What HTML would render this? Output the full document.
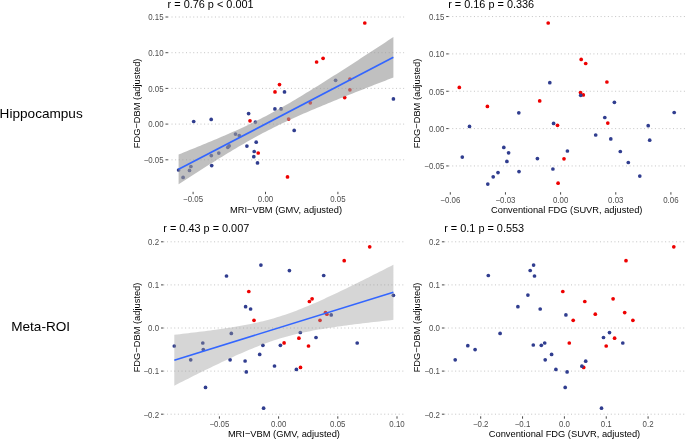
<!DOCTYPE html>
<html><head><meta charset="utf-8"><style>
html,body{margin:0;padding:0;background:#fff;}
svg{display:block;font-family:"Liberation Sans", sans-serif;will-change:transform;}
</style></head><body>
<svg width="685" height="439" viewBox="0 0 685 439">
<rect width="685" height="439" fill="#fff"/>
<text x="-0.4" y="117.9" font-size="13.6" fill="#000">Hippocampus</text>
<text x="11.2" y="330.8" font-size="13.6" fill="#000">Meta-ROI</text>
<line x1="167.9" y1="16.999999999999986" x2="404.1" y2="16.999999999999986" stroke="#bdbdbd" stroke-width="0.9" stroke-dasharray="1 2.62"/>
<line x1="167.9" y1="52.69999999999999" x2="404.1" y2="52.69999999999999" stroke="#bdbdbd" stroke-width="0.9" stroke-dasharray="1 2.62"/>
<line x1="167.9" y1="88.39999999999999" x2="404.1" y2="88.39999999999999" stroke="#bdbdbd" stroke-width="0.9" stroke-dasharray="1 2.62"/>
<line x1="167.9" y1="124.1" x2="404.1" y2="124.1" stroke="#bdbdbd" stroke-width="0.9" stroke-dasharray="1 2.62"/>
<line x1="167.9" y1="159.8" x2="404.1" y2="159.8" stroke="#bdbdbd" stroke-width="0.9" stroke-dasharray="1 2.62"/>
<line x1="165.5" y1="16.999999999999986" x2="167.9" y2="16.999999999999986" stroke="#333" stroke-width="0.9"/>
<text transform="translate(163.6,20.30) scale(1,1.12)" text-anchor="end" font-size="7.9" fill="#4d4d4d">0.15</text>
<line x1="165.5" y1="52.69999999999999" x2="167.9" y2="52.69999999999999" stroke="#333" stroke-width="0.9"/>
<text transform="translate(163.6,56.00) scale(1,1.12)" text-anchor="end" font-size="7.9" fill="#4d4d4d">0.10</text>
<line x1="165.5" y1="88.39999999999999" x2="167.9" y2="88.39999999999999" stroke="#333" stroke-width="0.9"/>
<text transform="translate(163.6,91.70) scale(1,1.12)" text-anchor="end" font-size="7.9" fill="#4d4d4d">0.05</text>
<line x1="165.5" y1="124.1" x2="167.9" y2="124.1" stroke="#333" stroke-width="0.9"/>
<text transform="translate(163.6,127.40) scale(1,1.12)" text-anchor="end" font-size="7.9" fill="#4d4d4d">0.00</text>
<line x1="165.5" y1="159.8" x2="167.9" y2="159.8" stroke="#333" stroke-width="0.9"/>
<text transform="translate(163.6,163.10) scale(1,1.12)" text-anchor="end" font-size="7.9" fill="#4d4d4d">−0.05</text>
<line x1="193.1" y1="191.8" x2="193.1" y2="194.20000000000002" stroke="#333" stroke-width="0.9"/>
<text transform="translate(193.1,202.30) scale(1,1.12)" text-anchor="middle" font-size="7.9" fill="#4d4d4d">−0.05</text>
<line x1="265.5" y1="191.8" x2="265.5" y2="194.20000000000002" stroke="#333" stroke-width="0.9"/>
<text transform="translate(265.5,202.30) scale(1,1.12)" text-anchor="middle" font-size="7.9" fill="#4d4d4d">0.00</text>
<line x1="337.9" y1="191.8" x2="337.9" y2="194.20000000000002" stroke="#333" stroke-width="0.9"/>
<text transform="translate(337.9,202.30) scale(1,1.12)" text-anchor="middle" font-size="7.9" fill="#4d4d4d">0.05</text>
<text x="167.6" y="8.0" font-size="10.9" fill="#000">r = 0.76 p &lt; 0.001</text>
<text x="286.0" y="212.7" text-anchor="middle" font-size="9.3" fill="#000">MRI−VBM (GMV, adjusted)</text>
<text transform="translate(140.0,103.4) rotate(-90)" text-anchor="middle" font-size="9.3" fill="#000">FDG−DBM (adjusted)</text>
<circle cx="250" cy="120.8" r="1.85" fill="#ee0000"/>
<circle cx="258.2" cy="153" r="1.85" fill="#ee0000"/>
<circle cx="287.5" cy="176.9" r="1.85" fill="#ee0000"/>
<circle cx="275" cy="91.9" r="1.85" fill="#ee0000"/>
<circle cx="279.5" cy="84.6" r="1.85" fill="#ee0000"/>
<circle cx="316.6" cy="62" r="1.85" fill="#ee0000"/>
<circle cx="323.1" cy="58.3" r="1.85" fill="#ee0000"/>
<circle cx="364.8" cy="23" r="1.85" fill="#ee0000"/>
<circle cx="344.7" cy="97.6" r="1.85" fill="#ee0000"/>
<circle cx="288.6" cy="119.1" r="1.85" fill="#ee0000"/>
<circle cx="310.3" cy="102.8" r="1.85" fill="#ee0000"/>
<circle cx="349.9" cy="79.1" r="1.85" fill="#ee0000"/>
<circle cx="349.9" cy="89.8" r="1.85" fill="#ee0000"/>
<circle cx="193.7" cy="121.5" r="1.85" fill="#303d8f"/>
<circle cx="211.2" cy="119.4" r="1.85" fill="#303d8f"/>
<circle cx="248.6" cy="113.6" r="1.85" fill="#303d8f"/>
<circle cx="256.2" cy="142.2" r="1.85" fill="#303d8f"/>
<circle cx="246.9" cy="146.1" r="1.85" fill="#303d8f"/>
<circle cx="254.2" cy="151.5" r="1.85" fill="#303d8f"/>
<circle cx="253.8" cy="156.7" r="1.85" fill="#303d8f"/>
<circle cx="257.5" cy="162.9" r="1.85" fill="#303d8f"/>
<circle cx="211.7" cy="165.6" r="1.85" fill="#303d8f"/>
<circle cx="178.6" cy="170" r="1.85" fill="#303d8f"/>
<circle cx="274.9" cy="108.9" r="1.85" fill="#303d8f"/>
<circle cx="284.5" cy="91.9" r="1.85" fill="#303d8f"/>
<circle cx="294.2" cy="130.4" r="1.85" fill="#303d8f"/>
<circle cx="393.4" cy="98.9" r="1.85" fill="#303d8f"/>
<circle cx="255.4" cy="122.1" r="1.85" fill="#303d8f"/>
<circle cx="235.5" cy="134.1" r="1.85" fill="#303d8f"/>
<circle cx="239.3" cy="135.5" r="1.85" fill="#303d8f"/>
<circle cx="229.2" cy="145.8" r="1.85" fill="#303d8f"/>
<circle cx="227.8" cy="147.3" r="1.85" fill="#303d8f"/>
<circle cx="218.8" cy="153.1" r="1.85" fill="#303d8f"/>
<circle cx="211.3" cy="155.6" r="1.85" fill="#303d8f"/>
<circle cx="190.9" cy="166.5" r="1.85" fill="#303d8f"/>
<circle cx="189.5" cy="170.4" r="1.85" fill="#303d8f"/>
<circle cx="183.1" cy="177.4" r="1.85" fill="#303d8f"/>
<circle cx="281.1" cy="108.9" r="1.85" fill="#303d8f"/>
<circle cx="335.6" cy="80.3" r="1.85" fill="#303d8f"/>
<path d="M178.60,154.47 L181.32,153.39 L184.04,152.30 L186.76,151.21 L189.48,150.12 L192.19,149.03 L194.91,147.93 L197.63,146.82 L200.35,145.71 L203.07,144.60 L205.79,143.48 L208.51,142.36 L211.23,141.23 L213.95,140.09 L216.67,138.94 L219.38,137.79 L222.10,136.62 L224.82,135.45 L227.54,134.27 L230.26,133.08 L232.98,131.87 L235.70,130.65 L238.42,129.42 L241.14,128.18 L243.86,126.91 L246.57,125.64 L249.29,124.34 L252.01,123.03 L254.73,121.70 L257.45,120.35 L260.17,118.98 L262.89,117.59 L265.61,116.19 L268.33,114.76 L271.05,113.31 L273.76,111.84 L276.48,110.35 L279.20,108.84 L281.92,107.31 L284.64,105.77 L287.36,104.21 L290.08,102.63 L292.80,101.03 L295.52,99.43 L298.24,97.81 L300.95,96.17 L303.67,94.53 L306.39,92.87 L309.11,91.21 L311.83,89.53 L314.55,87.85 L317.27,86.16 L319.99,84.46 L322.71,82.75 L325.43,81.04 L328.14,79.32 L330.86,77.60 L333.58,75.87 L336.30,74.13 L339.02,72.39 L341.74,70.65 L344.46,68.91 L347.18,67.16 L349.90,65.40 L352.62,63.65 L355.33,61.89 L358.05,60.13 L360.77,58.36 L363.49,56.59 L366.21,54.83 L368.93,53.05 L371.65,51.28 L374.37,49.51 L377.09,47.73 L379.81,45.95 L382.52,44.17 L385.24,42.39 L387.96,40.61 L390.68,38.83 L393.40,37.04 L393.40,77.47 L390.68,78.53 L387.96,79.58 L385.24,80.64 L382.52,81.69 L379.81,82.75 L377.09,83.81 L374.37,84.87 L371.65,85.93 L368.93,87.00 L366.21,88.07 L363.49,89.13 L360.77,90.20 L358.05,91.28 L355.33,92.35 L352.62,93.43 L349.90,94.51 L347.18,95.60 L344.46,96.69 L341.74,97.78 L339.02,98.87 L336.30,99.97 L333.58,101.07 L330.86,102.18 L328.14,103.30 L325.43,104.41 L322.71,105.54 L319.99,106.67 L317.27,107.81 L314.55,108.95 L311.83,110.11 L309.11,111.27 L306.39,112.44 L303.67,113.62 L300.95,114.82 L298.24,116.02 L295.52,117.24 L292.80,118.47 L290.08,119.71 L287.36,120.97 L284.64,122.25 L281.92,123.54 L279.20,124.85 L276.48,126.18 L273.76,127.53 L271.05,128.89 L268.33,130.28 L265.61,131.69 L262.89,133.12 L260.17,134.57 L257.45,136.04 L254.73,137.52 L252.01,139.03 L249.29,140.56 L246.57,142.10 L243.86,143.66 L241.14,145.24 L238.42,146.83 L235.70,148.43 L232.98,150.05 L230.26,151.69 L227.54,153.33 L224.82,154.99 L222.10,156.65 L219.38,158.32 L216.67,160.01 L213.95,161.70 L211.23,163.40 L208.51,165.10 L205.79,166.82 L203.07,168.53 L200.35,170.26 L197.63,171.99 L194.91,173.72 L192.19,175.46 L189.48,177.20 L186.76,178.95 L184.04,180.70 L181.32,182.45 L178.60,184.21 Z" fill="#999999" fill-opacity="0.62"/>
<line x1="178.60" y1="169.34" x2="393.40" y2="57.26" stroke="#3366ff" stroke-width="1.65"/>
<line x1="448.6" y1="16.549999999999983" x2="684.9" y2="16.549999999999983" stroke="#bdbdbd" stroke-width="0.9" stroke-dasharray="1 2.62"/>
<line x1="448.6" y1="53.89999999999999" x2="684.9" y2="53.89999999999999" stroke="#bdbdbd" stroke-width="0.9" stroke-dasharray="1 2.62"/>
<line x1="448.6" y1="91.25" x2="684.9" y2="91.25" stroke="#bdbdbd" stroke-width="0.9" stroke-dasharray="1 2.62"/>
<line x1="448.6" y1="128.6" x2="684.9" y2="128.6" stroke="#bdbdbd" stroke-width="0.9" stroke-dasharray="1 2.62"/>
<line x1="448.6" y1="165.95" x2="684.9" y2="165.95" stroke="#bdbdbd" stroke-width="0.9" stroke-dasharray="1 2.62"/>
<line x1="446.20000000000005" y1="16.549999999999983" x2="448.6" y2="16.549999999999983" stroke="#333" stroke-width="0.9"/>
<text transform="translate(444.3,19.85) scale(1,1.12)" text-anchor="end" font-size="7.9" fill="#4d4d4d">0.15</text>
<line x1="446.20000000000005" y1="53.89999999999999" x2="448.6" y2="53.89999999999999" stroke="#333" stroke-width="0.9"/>
<text transform="translate(444.3,57.20) scale(1,1.12)" text-anchor="end" font-size="7.9" fill="#4d4d4d">0.10</text>
<line x1="446.20000000000005" y1="91.25" x2="448.6" y2="91.25" stroke="#333" stroke-width="0.9"/>
<text transform="translate(444.3,94.55) scale(1,1.12)" text-anchor="end" font-size="7.9" fill="#4d4d4d">0.05</text>
<line x1="446.20000000000005" y1="128.6" x2="448.6" y2="128.6" stroke="#333" stroke-width="0.9"/>
<text transform="translate(444.3,131.90) scale(1,1.12)" text-anchor="end" font-size="7.9" fill="#4d4d4d">0.00</text>
<line x1="446.20000000000005" y1="165.95" x2="448.6" y2="165.95" stroke="#333" stroke-width="0.9"/>
<text transform="translate(444.3,169.25) scale(1,1.12)" text-anchor="end" font-size="7.9" fill="#4d4d4d">−0.05</text>
<line x1="450.3" y1="192.2" x2="450.3" y2="194.6" stroke="#333" stroke-width="0.9"/>
<text transform="translate(450.3,202.70) scale(1,1.12)" text-anchor="middle" font-size="7.9" fill="#4d4d4d">−0.06</text>
<line x1="505.45000000000005" y1="192.2" x2="505.45000000000005" y2="194.6" stroke="#333" stroke-width="0.9"/>
<text transform="translate(505.45000000000005,202.70) scale(1,1.12)" text-anchor="middle" font-size="7.9" fill="#4d4d4d">−0.03</text>
<line x1="560.6" y1="192.2" x2="560.6" y2="194.6" stroke="#333" stroke-width="0.9"/>
<text transform="translate(560.6,202.70) scale(1,1.12)" text-anchor="middle" font-size="7.9" fill="#4d4d4d">0.00</text>
<line x1="615.75" y1="192.2" x2="615.75" y2="194.6" stroke="#333" stroke-width="0.9"/>
<text transform="translate(615.75,202.70) scale(1,1.12)" text-anchor="middle" font-size="7.9" fill="#4d4d4d">0.03</text>
<line x1="670.9" y1="192.2" x2="670.9" y2="194.6" stroke="#333" stroke-width="0.9"/>
<text transform="translate(670.9,202.70) scale(1,1.12)" text-anchor="middle" font-size="7.9" fill="#4d4d4d">0.06</text>
<text x="448.2" y="8.0" font-size="10.9" fill="#000">r = 0.16 p = 0.336</text>
<text x="566.75" y="212.7" text-anchor="middle" font-size="9.3" fill="#000">Conventional FDG (SUVR, adjusted)</text>
<text transform="translate(420.0,103.55) rotate(-90)" text-anchor="middle" font-size="9.3" fill="#000">FDG−DBM (adjusted)</text>
<circle cx="548.2" cy="23" r="1.85" fill="#ee0000"/>
<circle cx="459.3" cy="87.4" r="1.85" fill="#ee0000"/>
<circle cx="539.7" cy="100.9" r="1.85" fill="#ee0000"/>
<circle cx="487.4" cy="106.4" r="1.85" fill="#ee0000"/>
<circle cx="581.2" cy="59.4" r="1.85" fill="#ee0000"/>
<circle cx="585.7" cy="63.5" r="1.85" fill="#ee0000"/>
<circle cx="606.9" cy="82" r="1.85" fill="#ee0000"/>
<circle cx="580.5" cy="92.5" r="1.85" fill="#ee0000"/>
<circle cx="583.3" cy="94.9" r="1.85" fill="#ee0000"/>
<circle cx="557.5" cy="125.3" r="1.85" fill="#ee0000"/>
<circle cx="564" cy="158.8" r="1.85" fill="#ee0000"/>
<circle cx="558.1" cy="183.2" r="1.85" fill="#ee0000"/>
<circle cx="607.8" cy="123.1" r="1.85" fill="#ee0000"/>
<circle cx="549.8" cy="82.7" r="1.85" fill="#303d8f"/>
<circle cx="580.7" cy="95.3" r="1.85" fill="#303d8f"/>
<circle cx="614.4" cy="102.3" r="1.85" fill="#303d8f"/>
<circle cx="518.8" cy="112.8" r="1.85" fill="#303d8f"/>
<circle cx="469.5" cy="126.4" r="1.85" fill="#303d8f"/>
<circle cx="553.6" cy="123.4" r="1.85" fill="#303d8f"/>
<circle cx="503.8" cy="147.4" r="1.85" fill="#303d8f"/>
<circle cx="508.6" cy="152.8" r="1.85" fill="#303d8f"/>
<circle cx="462.3" cy="157.1" r="1.85" fill="#303d8f"/>
<circle cx="506.9" cy="161.4" r="1.85" fill="#303d8f"/>
<circle cx="537.4" cy="158.6" r="1.85" fill="#303d8f"/>
<circle cx="567.4" cy="151" r="1.85" fill="#303d8f"/>
<circle cx="552.9" cy="169" r="1.85" fill="#303d8f"/>
<circle cx="498" cy="172.6" r="1.85" fill="#303d8f"/>
<circle cx="519" cy="171.6" r="1.85" fill="#303d8f"/>
<circle cx="493.2" cy="176.8" r="1.85" fill="#303d8f"/>
<circle cx="487.8" cy="184.1" r="1.85" fill="#303d8f"/>
<circle cx="674.2" cy="112.5" r="1.85" fill="#303d8f"/>
<circle cx="604.8" cy="117.5" r="1.85" fill="#303d8f"/>
<circle cx="648.2" cy="125.7" r="1.85" fill="#303d8f"/>
<circle cx="595.7" cy="135" r="1.85" fill="#303d8f"/>
<circle cx="610.8" cy="138.9" r="1.85" fill="#303d8f"/>
<circle cx="649.7" cy="140.2" r="1.85" fill="#303d8f"/>
<circle cx="620.3" cy="151.5" r="1.85" fill="#303d8f"/>
<circle cx="628.3" cy="162.5" r="1.85" fill="#303d8f"/>
<circle cx="639.8" cy="176.1" r="1.85" fill="#303d8f"/>
<line x1="163.4" y1="241.8" x2="404.4" y2="241.8" stroke="#bdbdbd" stroke-width="0.9" stroke-dasharray="1 2.62"/>
<line x1="163.4" y1="284.9" x2="404.4" y2="284.9" stroke="#bdbdbd" stroke-width="0.9" stroke-dasharray="1 2.62"/>
<line x1="163.4" y1="328.0" x2="404.4" y2="328.0" stroke="#bdbdbd" stroke-width="0.9" stroke-dasharray="1 2.62"/>
<line x1="163.4" y1="371.1" x2="404.4" y2="371.1" stroke="#bdbdbd" stroke-width="0.9" stroke-dasharray="1 2.62"/>
<line x1="163.4" y1="414.2" x2="404.4" y2="414.2" stroke="#bdbdbd" stroke-width="0.9" stroke-dasharray="1 2.62"/>
<line x1="161.0" y1="241.8" x2="163.4" y2="241.8" stroke="#333" stroke-width="0.9"/>
<text transform="translate(159.1,245.10) scale(1,1.12)" text-anchor="end" font-size="7.9" fill="#4d4d4d">0.2</text>
<line x1="161.0" y1="284.9" x2="163.4" y2="284.9" stroke="#333" stroke-width="0.9"/>
<text transform="translate(159.1,288.20) scale(1,1.12)" text-anchor="end" font-size="7.9" fill="#4d4d4d">0.1</text>
<line x1="161.0" y1="328.0" x2="163.4" y2="328.0" stroke="#333" stroke-width="0.9"/>
<text transform="translate(159.1,331.30) scale(1,1.12)" text-anchor="end" font-size="7.9" fill="#4d4d4d">0.0</text>
<line x1="161.0" y1="371.1" x2="163.4" y2="371.1" stroke="#333" stroke-width="0.9"/>
<text transform="translate(159.1,374.40) scale(1,1.12)" text-anchor="end" font-size="7.9" fill="#4d4d4d">−0.1</text>
<line x1="161.0" y1="414.2" x2="163.4" y2="414.2" stroke="#333" stroke-width="0.9"/>
<text transform="translate(159.1,417.50) scale(1,1.12)" text-anchor="end" font-size="7.9" fill="#4d4d4d">−0.2</text>
<line x1="219.40000000000003" y1="416.3" x2="219.40000000000003" y2="418.7" stroke="#333" stroke-width="0.9"/>
<text transform="translate(219.40000000000003,426.80) scale(1,1.12)" text-anchor="middle" font-size="7.9" fill="#4d4d4d">−0.05</text>
<line x1="278.6" y1="416.3" x2="278.6" y2="418.7" stroke="#333" stroke-width="0.9"/>
<text transform="translate(278.6,426.80) scale(1,1.12)" text-anchor="middle" font-size="7.9" fill="#4d4d4d">0.00</text>
<line x1="337.8" y1="416.3" x2="337.8" y2="418.7" stroke="#333" stroke-width="0.9"/>
<text transform="translate(337.8,426.80) scale(1,1.12)" text-anchor="middle" font-size="7.9" fill="#4d4d4d">0.05</text>
<line x1="397.0" y1="416.3" x2="397.0" y2="418.7" stroke="#333" stroke-width="0.9"/>
<text transform="translate(397.0,426.80) scale(1,1.12)" text-anchor="middle" font-size="7.9" fill="#4d4d4d">0.10</text>
<text x="163.3" y="231.8" font-size="10.9" fill="#000">r = 0.43 p = 0.007</text>
<text x="283.9" y="436.9" text-anchor="middle" font-size="9.3" fill="#000">MRI−VBM (GMV, adjusted)</text>
<text transform="translate(140.0,327.5) rotate(-90)" text-anchor="middle" font-size="9.3" fill="#000">FDG−DBM (adjusted)</text>
<circle cx="248.8" cy="291.5" r="1.85" fill="#ee0000"/>
<circle cx="254" cy="320.3" r="1.85" fill="#ee0000"/>
<circle cx="344.2" cy="260.7" r="1.85" fill="#ee0000"/>
<circle cx="369.7" cy="246.8" r="1.85" fill="#ee0000"/>
<circle cx="309.4" cy="301.5" r="1.85" fill="#ee0000"/>
<circle cx="312.1" cy="298.8" r="1.85" fill="#ee0000"/>
<circle cx="325.5" cy="312.6" r="1.85" fill="#ee0000"/>
<circle cx="326.9" cy="314.2" r="1.85" fill="#ee0000"/>
<circle cx="320" cy="320.3" r="1.85" fill="#ee0000"/>
<circle cx="284.1" cy="342.9" r="1.85" fill="#ee0000"/>
<circle cx="298.9" cy="338.2" r="1.85" fill="#ee0000"/>
<circle cx="308.5" cy="346" r="1.85" fill="#ee0000"/>
<circle cx="300.5" cy="367.4" r="1.85" fill="#ee0000"/>
<circle cx="226.5" cy="276" r="1.85" fill="#303d8f"/>
<circle cx="260.9" cy="265.1" r="1.85" fill="#303d8f"/>
<circle cx="289.4" cy="270.6" r="1.85" fill="#303d8f"/>
<circle cx="245.6" cy="306.7" r="1.85" fill="#303d8f"/>
<circle cx="250.6" cy="309" r="1.85" fill="#303d8f"/>
<circle cx="323.7" cy="275.5" r="1.85" fill="#303d8f"/>
<circle cx="331.2" cy="314.9" r="1.85" fill="#303d8f"/>
<circle cx="393.4" cy="295.3" r="1.85" fill="#303d8f"/>
<circle cx="174.3" cy="346" r="1.85" fill="#303d8f"/>
<circle cx="190.7" cy="359.8" r="1.85" fill="#303d8f"/>
<circle cx="202.8" cy="343" r="1.85" fill="#303d8f"/>
<circle cx="203.3" cy="349.6" r="1.85" fill="#303d8f"/>
<circle cx="231.3" cy="333.4" r="1.85" fill="#303d8f"/>
<circle cx="230.1" cy="359.8" r="1.85" fill="#303d8f"/>
<circle cx="245.1" cy="361" r="1.85" fill="#303d8f"/>
<circle cx="246.3" cy="371.9" r="1.85" fill="#303d8f"/>
<circle cx="259.7" cy="354.4" r="1.85" fill="#303d8f"/>
<circle cx="262.9" cy="345.3" r="1.85" fill="#303d8f"/>
<circle cx="280.4" cy="345.3" r="1.85" fill="#303d8f"/>
<circle cx="274.5" cy="366" r="1.85" fill="#303d8f"/>
<circle cx="205.5" cy="387.4" r="1.85" fill="#303d8f"/>
<circle cx="263.6" cy="408.2" r="1.85" fill="#303d8f"/>
<circle cx="300.3" cy="332.5" r="1.85" fill="#303d8f"/>
<circle cx="316" cy="337.5" r="1.85" fill="#303d8f"/>
<circle cx="357.2" cy="343" r="1.85" fill="#303d8f"/>
<circle cx="296.4" cy="369.4" r="1.85" fill="#303d8f"/>
<path d="M174.30,334.78 L177.07,334.47 L179.85,334.15 L182.62,333.83 L185.39,333.51 L188.17,333.19 L190.94,332.86 L193.71,332.52 L196.49,332.19 L199.26,331.84 L202.03,331.50 L204.81,331.14 L207.58,330.78 L210.35,330.42 L213.13,330.05 L215.90,329.67 L218.67,329.28 L221.45,328.88 L224.22,328.47 L226.99,328.05 L229.77,327.63 L232.54,327.18 L235.32,326.73 L238.09,326.26 L240.86,325.77 L243.64,325.27 L246.41,324.75 L249.18,324.21 L251.96,323.64 L254.73,323.06 L257.50,322.45 L260.28,321.81 L263.05,321.14 L265.82,320.45 L268.60,319.72 L271.37,318.97 L274.14,318.18 L276.92,317.35 L279.69,316.50 L282.46,315.61 L285.24,314.68 L288.01,313.73 L290.78,312.74 L293.56,311.72 L296.33,310.67 L299.10,309.60 L301.88,308.49 L304.65,307.37 L307.42,306.21 L310.20,305.04 L312.97,303.85 L315.74,302.63 L318.52,301.40 L321.29,300.16 L324.06,298.89 L326.84,297.62 L329.61,296.33 L332.38,295.03 L335.16,293.72 L337.93,292.40 L340.71,291.07 L343.48,289.74 L346.25,288.39 L349.03,287.04 L351.80,285.68 L354.57,284.31 L357.35,282.94 L360.12,281.57 L362.89,280.19 L365.67,278.80 L368.44,277.41 L371.21,276.02 L373.99,274.62 L376.76,273.22 L379.53,271.82 L382.31,270.41 L385.08,269.00 L387.85,267.59 L390.63,266.18 L393.40,264.76 L393.40,319.84 L390.63,320.14 L387.85,320.45 L385.08,320.76 L382.31,321.07 L379.53,321.38 L376.76,321.69 L373.99,322.01 L371.21,322.34 L368.44,322.66 L365.67,322.99 L362.89,323.33 L360.12,323.66 L357.35,324.01 L354.57,324.36 L351.80,324.71 L349.03,325.07 L346.25,325.44 L343.48,325.81 L340.71,326.19 L337.93,326.58 L335.16,326.98 L332.38,327.39 L329.61,327.81 L326.84,328.24 L324.06,328.69 L321.29,329.15 L318.52,329.62 L315.74,330.11 L312.97,330.61 L310.20,331.14 L307.42,331.68 L304.65,332.25 L301.88,332.84 L299.10,333.46 L296.33,334.10 L293.56,334.77 L290.78,335.47 L288.01,336.21 L285.24,336.97 L282.46,337.76 L279.69,338.59 L276.92,339.46 L274.14,340.35 L271.37,341.28 L268.60,342.25 L265.82,343.24 L263.05,344.26 L260.28,345.32 L257.50,346.40 L254.73,347.51 L251.96,348.64 L249.18,349.80 L246.41,350.97 L243.64,352.17 L240.86,353.39 L238.09,354.62 L235.32,355.87 L232.54,357.14 L229.77,358.41 L226.99,359.70 L224.22,361.01 L221.45,362.32 L218.67,363.64 L215.90,364.97 L213.13,366.31 L210.35,367.66 L207.58,369.01 L204.81,370.37 L202.03,371.74 L199.26,373.11 L196.49,374.48 L193.71,375.87 L190.94,377.25 L188.17,378.64 L185.39,380.04 L182.62,381.43 L179.85,382.83 L177.07,384.24 L174.30,385.65 Z" fill="#999999" fill-opacity="0.4"/>
<line x1="174.30" y1="360.21" x2="393.40" y2="292.30" stroke="#3366ff" stroke-width="1.65"/>
<line x1="444.3" y1="241.8" x2="684.7" y2="241.8" stroke="#bdbdbd" stroke-width="0.9" stroke-dasharray="1 2.62"/>
<line x1="444.3" y1="284.9" x2="684.7" y2="284.9" stroke="#bdbdbd" stroke-width="0.9" stroke-dasharray="1 2.62"/>
<line x1="444.3" y1="328.0" x2="684.7" y2="328.0" stroke="#bdbdbd" stroke-width="0.9" stroke-dasharray="1 2.62"/>
<line x1="444.3" y1="371.1" x2="684.7" y2="371.1" stroke="#bdbdbd" stroke-width="0.9" stroke-dasharray="1 2.62"/>
<line x1="444.3" y1="414.2" x2="684.7" y2="414.2" stroke="#bdbdbd" stroke-width="0.9" stroke-dasharray="1 2.62"/>
<line x1="441.90000000000003" y1="241.8" x2="444.3" y2="241.8" stroke="#333" stroke-width="0.9"/>
<text transform="translate(440.0,245.10) scale(1,1.12)" text-anchor="end" font-size="7.9" fill="#4d4d4d">0.2</text>
<line x1="441.90000000000003" y1="284.9" x2="444.3" y2="284.9" stroke="#333" stroke-width="0.9"/>
<text transform="translate(440.0,288.20) scale(1,1.12)" text-anchor="end" font-size="7.9" fill="#4d4d4d">0.1</text>
<line x1="441.90000000000003" y1="328.0" x2="444.3" y2="328.0" stroke="#333" stroke-width="0.9"/>
<text transform="translate(440.0,331.30) scale(1,1.12)" text-anchor="end" font-size="7.9" fill="#4d4d4d">0.0</text>
<line x1="441.90000000000003" y1="371.1" x2="444.3" y2="371.1" stroke="#333" stroke-width="0.9"/>
<text transform="translate(440.0,374.40) scale(1,1.12)" text-anchor="end" font-size="7.9" fill="#4d4d4d">−0.1</text>
<line x1="441.90000000000003" y1="414.2" x2="444.3" y2="414.2" stroke="#333" stroke-width="0.9"/>
<text transform="translate(440.0,417.50) scale(1,1.12)" text-anchor="end" font-size="7.9" fill="#4d4d4d">−0.2</text>
<line x1="480.7" y1="416.3" x2="480.7" y2="418.7" stroke="#333" stroke-width="0.9"/>
<text transform="translate(480.7,426.80) scale(1,1.12)" text-anchor="middle" font-size="7.9" fill="#4d4d4d">−0.2</text>
<line x1="522.55" y1="416.3" x2="522.55" y2="418.7" stroke="#333" stroke-width="0.9"/>
<text transform="translate(522.55,426.80) scale(1,1.12)" text-anchor="middle" font-size="7.9" fill="#4d4d4d">−0.1</text>
<line x1="564.4" y1="416.3" x2="564.4" y2="418.7" stroke="#333" stroke-width="0.9"/>
<text transform="translate(564.4,426.80) scale(1,1.12)" text-anchor="middle" font-size="7.9" fill="#4d4d4d">0.0</text>
<line x1="606.25" y1="416.3" x2="606.25" y2="418.7" stroke="#333" stroke-width="0.9"/>
<text transform="translate(606.25,426.80) scale(1,1.12)" text-anchor="middle" font-size="7.9" fill="#4d4d4d">0.1</text>
<line x1="648.1" y1="416.3" x2="648.1" y2="418.7" stroke="#333" stroke-width="0.9"/>
<text transform="translate(648.1,426.80) scale(1,1.12)" text-anchor="middle" font-size="7.9" fill="#4d4d4d">0.2</text>
<text x="444.2" y="231.8" font-size="10.9" fill="#000">r = 0.1 p = 0.553</text>
<text x="564.5" y="436.9" text-anchor="middle" font-size="9.3" fill="#000">Conventional FDG (SUVR, adjusted)</text>
<text transform="translate(420.0,327.5) rotate(-90)" text-anchor="middle" font-size="9.3" fill="#000">FDG−DBM (adjusted)</text>
<circle cx="562.8" cy="291.5" r="1.85" fill="#ee0000"/>
<circle cx="673.8" cy="246.8" r="1.85" fill="#ee0000"/>
<circle cx="626" cy="260.7" r="1.85" fill="#ee0000"/>
<circle cx="584.8" cy="301.5" r="1.85" fill="#ee0000"/>
<circle cx="613.1" cy="298.8" r="1.85" fill="#ee0000"/>
<circle cx="573.2" cy="320.3" r="1.85" fill="#ee0000"/>
<circle cx="595.3" cy="314.2" r="1.85" fill="#ee0000"/>
<circle cx="624.7" cy="312.6" r="1.85" fill="#ee0000"/>
<circle cx="632.9" cy="320.3" r="1.85" fill="#ee0000"/>
<circle cx="614.6" cy="338.2" r="1.85" fill="#ee0000"/>
<circle cx="569.3" cy="343" r="1.85" fill="#ee0000"/>
<circle cx="606.2" cy="346" r="1.85" fill="#ee0000"/>
<circle cx="583.7" cy="367.4" r="1.85" fill="#ee0000"/>
<circle cx="488.3" cy="275.5" r="1.85" fill="#303d8f"/>
<circle cx="533.6" cy="265.1" r="1.85" fill="#303d8f"/>
<circle cx="530.2" cy="270.5" r="1.85" fill="#303d8f"/>
<circle cx="534.5" cy="276" r="1.85" fill="#303d8f"/>
<circle cx="527.9" cy="295.1" r="1.85" fill="#303d8f"/>
<circle cx="517.9" cy="306.7" r="1.85" fill="#303d8f"/>
<circle cx="540.2" cy="309" r="1.85" fill="#303d8f"/>
<circle cx="565.9" cy="314.9" r="1.85" fill="#303d8f"/>
<circle cx="500.1" cy="333.4" r="1.85" fill="#303d8f"/>
<circle cx="467.8" cy="345.7" r="1.85" fill="#303d8f"/>
<circle cx="475.1" cy="349.6" r="1.85" fill="#303d8f"/>
<circle cx="455.2" cy="359.8" r="1.85" fill="#303d8f"/>
<circle cx="533.3" cy="345" r="1.85" fill="#303d8f"/>
<circle cx="541.3" cy="345.3" r="1.85" fill="#303d8f"/>
<circle cx="544.7" cy="343" r="1.85" fill="#303d8f"/>
<circle cx="551.6" cy="354.4" r="1.85" fill="#303d8f"/>
<circle cx="545.2" cy="359.8" r="1.85" fill="#303d8f"/>
<circle cx="555.9" cy="369.4" r="1.85" fill="#303d8f"/>
<circle cx="609.5" cy="332.6" r="1.85" fill="#303d8f"/>
<circle cx="603.5" cy="337.5" r="1.85" fill="#303d8f"/>
<circle cx="622.8" cy="343" r="1.85" fill="#303d8f"/>
<circle cx="585.7" cy="361.2" r="1.85" fill="#303d8f"/>
<circle cx="581.9" cy="366.2" r="1.85" fill="#303d8f"/>
<circle cx="567.1" cy="371.9" r="1.85" fill="#303d8f"/>
<circle cx="565.2" cy="387.4" r="1.85" fill="#303d8f"/>
<circle cx="601.5" cy="408.2" r="1.85" fill="#303d8f"/>
</svg>
</body></html>
